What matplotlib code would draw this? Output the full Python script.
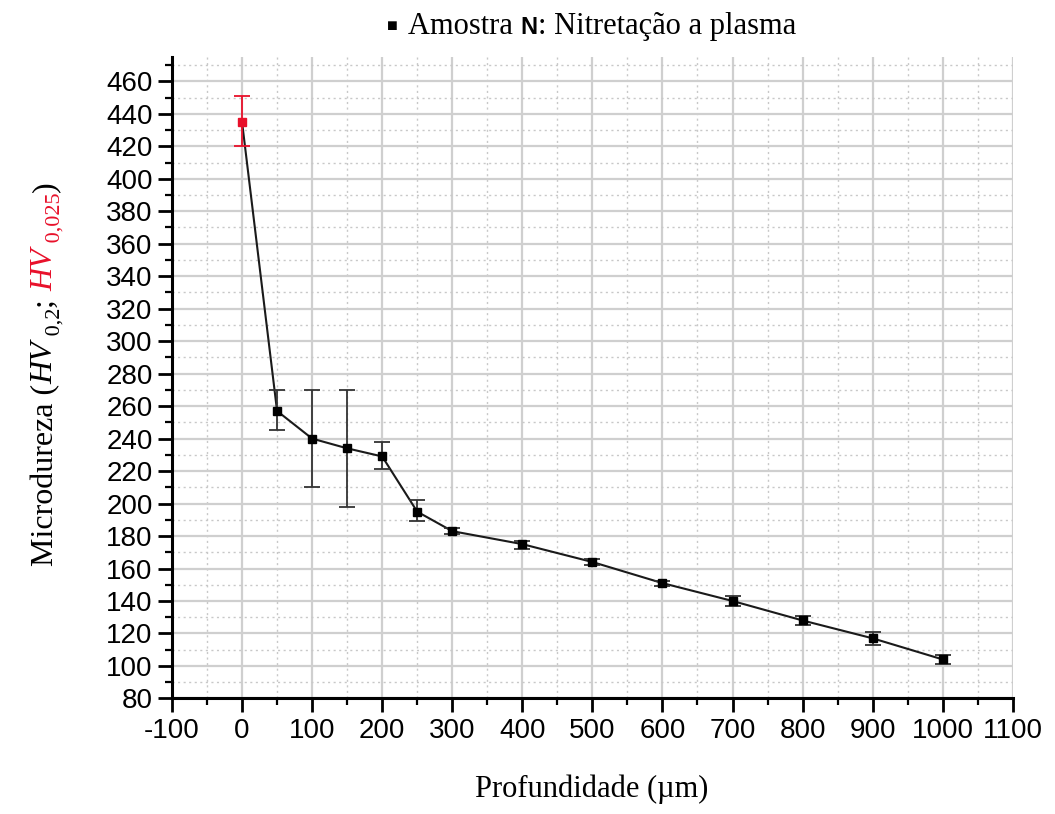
import matplotlib.pyplot as plt
from matplotlib.ticker import MultipleLocator

# Microhardness profile of the plasma nitrided sample
depth = [0, 50, 100, 150, 200, 250, 300, 400, 500, 600, 700, 800, 900, 1000]
hardness = [435, 257, 240, 234, 229, 195, 183, 175, 164, 151, 140, 128, 117, 104]
err_low = [15, 12, 30, 36, 8, 6, 2, 3, 2, 1.5, 3, 3, 4, 3]
err_high = [16, 13, 30, 36, 9, 7, 2, 2, 2, 1.5, 3, 3, 4, 3]
point_colors = ['#e8102a'] + ['black'] * 13

serif = ['Liberation Serif', 'DejaVu Serif']
sans = ['Liberation Sans', 'DejaVu Sans']
red = '#e8102a'

plt.rcParams['axes.unicode_minus'] = False

fig = plt.figure(figsize=(10.55, 8.14), dpi=100)
ax = fig.add_axes([0.163, 0.142, 0.797, 0.788])

ax.plot(depth, hardness, '-', color='#1a1a1a', lw=1.5, zorder=3)
for x, y, lo, hi, c in zip(depth, hardness, err_low, err_high, point_colors):
    ax.errorbar([x], [y], yerr=[[lo], [hi]], fmt='s', ms=5.5, color=c,
                ecolor=c if c != 'black' else '#333333', elinewidth=1.3,
                capsize=6, capthick=1.3, zorder=4)

ax.set_xlim(-100, 1100)
ax.set_ylim(80, 475)
ax.xaxis.set_major_locator(MultipleLocator(100))
ax.xaxis.set_minor_locator(MultipleLocator(50))
ax.yaxis.set_major_locator(MultipleLocator(20))
ax.yaxis.set_minor_locator(MultipleLocator(10))

ax.grid(which='major', color='#cfcfcf', lw=1.6, ls='-', zorder=0)
ax.grid(which='minor', color='#c8c8c8', lw=1.0, ls=(0, (1.5, 2.5)), zorder=0)

for side in ['top', 'right']:
    ax.spines[side].set_visible(False)
for side in ['left', 'bottom']:
    ax.spines[side].set_linewidth(2.2)

ax.tick_params(which='major', direction='out', length=10, width=2,
               labelsize=20, pad=4)
ax.tick_params(which='minor', direction='out', length=5, width=1.6)
for lab in ax.get_xticklabels() + ax.get_yticklabels():
    lab.set_family(sans)

fig.canvas.draw()
r = fig.canvas.get_renderer()


def put_row(x0, y, pieces):
    # place text pieces left to right, starting at figure x0
    x = x0
    for s, kw in pieces:
        t = fig.text(x, y, s, ha='left', va='baseline', **kw)
        x += t.get_window_extent(r).width / fig.bbox.width
    return x


def put_col(x, y0, pieces):
    # stack rotated text pieces bottom to top; subscripts shifted down
    y = y0
    for s, sub, kw in pieces:
        dx = 0.006 if sub else 0.0
        t = fig.text(x + dx, y, s, ha='left', va='baseline', rotation=90,
                     rotation_mode='anchor', **kw)
        y += t.get_window_extent(r).height / fig.bbox.height


# legend-style title above the plot
fig.text(0.372, 0.968, '\u25a0', fontsize=13, ha='center', va='center',
         family=sans)
put_row(0.387, 0.958, [
    ('Amostra ', dict(fontsize=22, family=serif)),
    ('N', dict(fontsize=17, family=sans, weight='bold')),
    (': Nitretação a plasma', dict(fontsize=22, family=serif)),
])

fig.text(0.561, 0.012, 'Profundidade (µm)', fontsize=22, family=serif,
         ha='center', va='bottom')

big = dict(fontsize=23, family=serif)
small = dict(fontsize=16, family=serif)
put_col(0.050, 0.305, [
    ('Microdureza (', False, big),
    ('HV', False, dict(big, style='italic')),
    (' 0,2', True, small),
    ('; ', False, big),
    ('HV', False, dict(big, style='italic', color=red)),
    (' 0,025', True, dict(small, color=red)),
    (')', False, big),
])

fig.savefig('out.png', dpi=100)
